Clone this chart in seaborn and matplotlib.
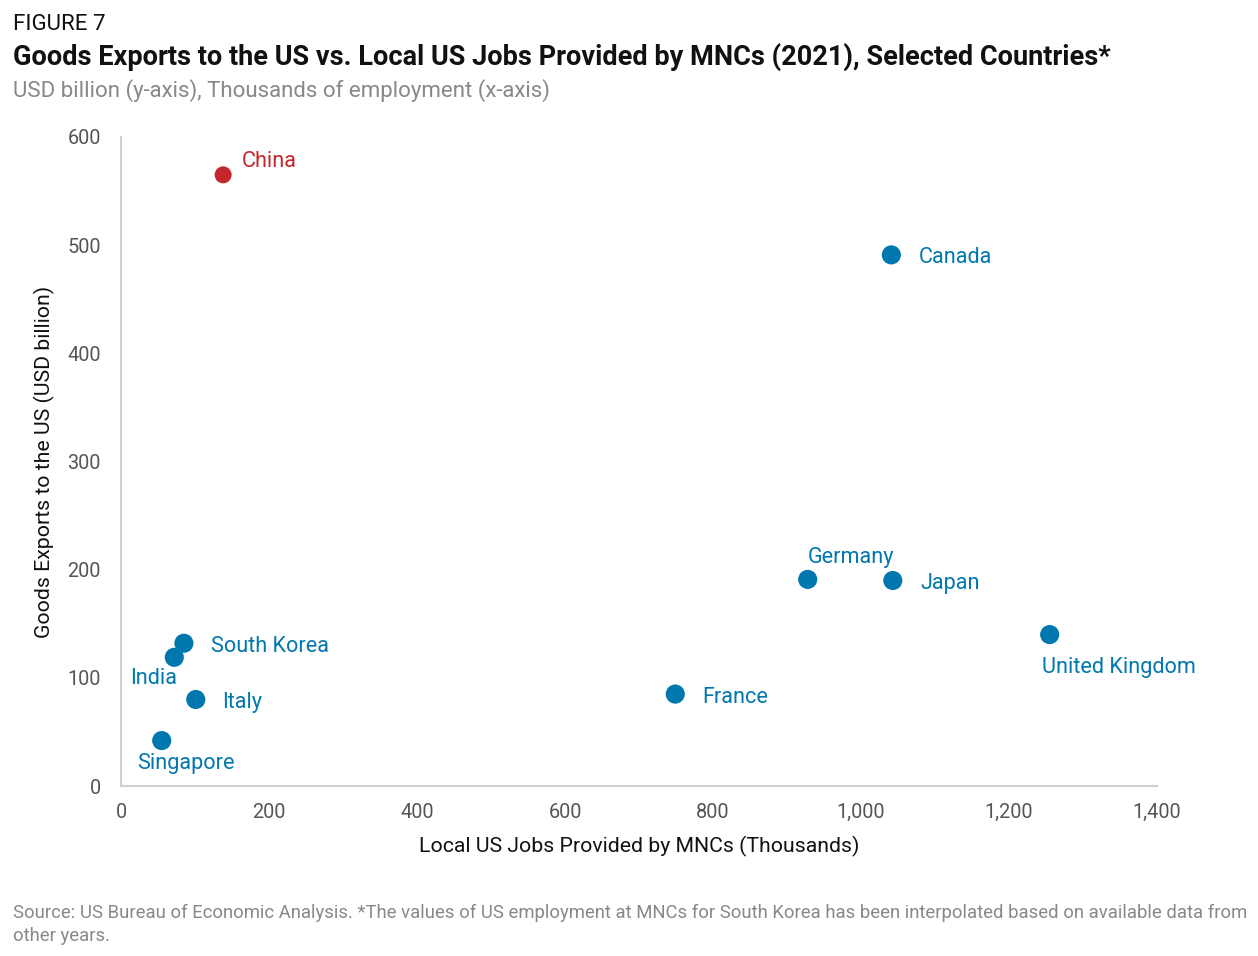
import matplotlib
matplotlib.use("Agg")
import matplotlib.pyplot as plt
import seaborn as sns
import pandas as pd

countries = ["China", "Canada", "Germany", "Japan", "United Kingdom", "France",
             "South Korea", "India", "Italy", "Singapore"]
jobs_thousands = [138, 1041, 928, 1043, 1255, 749, 85, 72, 101, 55]
exports_usd_bn = [565, 491, 191, 190, 140, 85, 132, 119, 80, 42]
highlight = ["China"]

x_ticks = [0, 200, 400, 600, 800, 1000, 1200, 1400]
x_tick_labels = ["0", "200", "400", "600", "800", "1,000", "1,200", "1,400"]
y_ticks = [0, 100, 200, 300, 400, 500, 600]

df = pd.DataFrame({"country": countries, "jobs": jobs_thousands, "exports": exports_usd_bn})
df["group"] = ["China" if c in highlight else "Other" for c in countries]

BLUE = "#0077AE"
RED = "#C4262B"

sns.set_theme(style="white")
plt.rcParams["font.family"] = ["Roboto", "DejaVu Sans"]

fig = plt.figure(figsize=(12.58, 9.56), dpi=100)
ax = fig.add_axes([0.0962, 0.1778, 0.8235, 0.6789])

sns.scatterplot(data=df[df.group == "Other"], x="jobs", y="exports", color=BLUE,
                s=190, edgecolor="none", ax=ax, legend=False, zorder=3)
sns.scatterplot(data=df[df.group == "China"], x="jobs", y="exports", color=RED,
                s=150, edgecolor="none", ax=ax, legend=False, zorder=3)

# label offsets in pixels (dx, dy, ha, va)
offsets = {
    "China": (19, 13, "left", "center"),
    "Canada": (27, -3, "left", "center"),
    "Germany": (0, 22, "left", "center"),
    "Japan": (28, -3, "left", "center"),
    "United Kingdom": (-8, -33, "left", "center"),
    "France": (27, -3, "left", "center"),
    "South Korea": (27, -3, "left", "center"),
    "India": (3, -21, "right", "center"),
    "Italy": (26, -3, "left", "center"),
    "Singapore": (-25, -23, "left", "center"),
}
for c, xv, yv in zip(countries, jobs_thousands, exports_usd_bn):
    dx, dy, ha, va = offsets[c]
    ax.annotate(c, (xv, yv), xytext=(dx, dy), textcoords="offset pixels",
                ha=ha, va=va, fontsize=15.6, color=RED if c in highlight else BLUE)

ax.set_xlim(0, 1400)
ax.set_ylim(0, 600)
ax.set_xticks(x_ticks)
ax.set_xticklabels(x_tick_labels)
ax.set_yticks(y_ticks)
ax.tick_params(axis="both", length=0, labelsize=14.3, colors="#555555")
ax.tick_params(axis="x", pad=12)
ax.tick_params(axis="y", pad=14.5)
for s in ["top", "right"]:
    ax.spines[s].set_visible(False)
for s in ["left", "bottom"]:
    ax.spines[s].set_color("#D0D0D0")
    ax.spines[s].set_linewidth(1.5)

ax.set_xlabel("Local US Jobs Provided by MNCs (Thousands)", fontsize=15.3, color="#111111", labelpad=10)
ax.set_ylabel("Goods Exports to the US (USD billion)", fontsize=15.3, color="#111111", labelpad=9)

fig.text(0.0103, 0.9686, "FIGURE 7", fontsize=16, color="#111111", va="baseline", ha="left")
fig.text(0.0103, 0.9323, "Goods Exports to the US vs. Local US Jobs Provided by MNCs (2021), Selected Countries*",
         fontsize=19.5, fontweight="bold", color="#111111", va="baseline", ha="left")
fig.text(0.0103, 0.8990, "USD billion (y-axis), Thousands of employment (x-axis)",
         fontsize=16, color="#888888", va="baseline", ha="left")
fig.text(0.0103, 0.0395, "Source: US Bureau of Economic Analysis. *The values of US employment at MNCs for South Korea has been interpolated based on available data from",
         fontsize=13.3, color="#888888", va="baseline", ha="left")
fig.text(0.0103, 0.0155, "other years.",
         fontsize=13.3, color="#888888", va="baseline", ha="left")

fig.savefig("out.png", dpi=100)
